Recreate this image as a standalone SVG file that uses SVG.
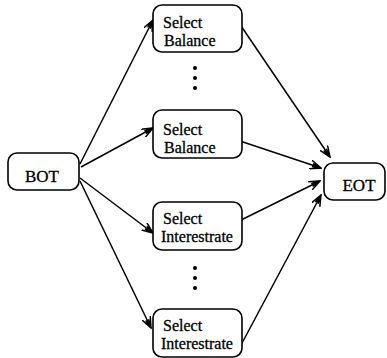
<svg xmlns="http://www.w3.org/2000/svg" width="387" height="358" viewBox="0 0 387 358">
<defs>
<style>
.box{fill:#fff;stroke:#000;stroke-width:1.6}
.lbl{font-family:"Liberation Serif","Times New Roman",serif;font-size:17px;fill:#000;stroke:#000;stroke-width:0.3}
.sub{font-size:16px}
.edge{stroke:#000;stroke-width:1.5;fill:none;marker-end:url(#ah)}
.dot{fill:#000}
</style>
<marker id="ah" viewBox="0 0 12 10" refX="11" refY="5" markerWidth="12" markerHeight="10" markerUnits="userSpaceOnUse" orient="auto">
<path d="M0,0.5 L11,5 L0,9.5 M11,5 L2,3.5 M11,5 L2,6.5" fill="none" stroke="#000" stroke-width="1.5"/>
</marker>
</defs>
<rect width="387" height="358" fill="#fff"/>
<g id="connectors">
<line class="edge" x1="80" y1="164" x2="153" y2="20"/>
<line class="edge" x1="81" y1="167" x2="153" y2="128"/>
<line class="edge" x1="80" y1="178" x2="153" y2="233"/>
<line class="edge" x1="80" y1="181" x2="151" y2="328"/>
<line class="edge" x1="237" y1="20" x2="330" y2="157"/>
<line class="edge" x1="237" y1="140" x2="321" y2="168"/>
<line class="edge" x1="237" y1="222" x2="320" y2="181"/>
<line class="edge" x1="241" y1="345" x2="321" y2="195"/>
</g>
<g id="BOT">
<rect class="box" x="8" y="153" width="71" height="37" rx="9"/>
<text class="lbl" x="42" y="182" text-anchor="middle">BOT</text>
</g>
<g id="select-balance-1">
<rect class="box" x="153" y="5" width="89" height="47" rx="9"/>
<text class="lbl sub"><tspan x="163" y="28">Select</tspan><tspan x="164" y="46">Balance</tspan></text>
</g>
<g id="dots-1">
<circle class="dot" cx="195" cy="68" r="2"/>
<circle class="dot" cx="195" cy="78" r="2"/>
<circle class="dot" cx="195" cy="88" r="2"/>
</g>
<g id="select-balance-2">
<rect class="box" x="153" y="110" width="89" height="48" rx="9"/>
<text class="lbl sub"><tspan x="163" y="135">Select</tspan><tspan x="164" y="153">Balance</tspan></text>
</g>
<g id="select-interestrate-1">
<rect class="box" x="153" y="202" width="89" height="48" rx="9"/>
<text class="lbl sub"><tspan x="163" y="224">Select</tspan><tspan x="161" y="242">Interestrate</tspan></text>
</g>
<g id="dots-2">
<circle class="dot" cx="195" cy="268" r="2"/>
<circle class="dot" cx="195" cy="278" r="2"/>
<circle class="dot" cx="195" cy="288" r="2"/>
</g>
<g id="select-interestrate-2">
<rect class="box" x="153" y="309" width="89" height="48" rx="9"/>
<text class="lbl sub"><tspan x="163" y="331">Select</tspan><tspan x="161" y="349">Interestrate</tspan></text>
</g>
<g id="EOT">
<rect class="box" x="324" y="163" width="61" height="37" rx="9"/>
<text class="lbl" x="359" y="191" text-anchor="middle">EOT</text>
</g>
</svg>
